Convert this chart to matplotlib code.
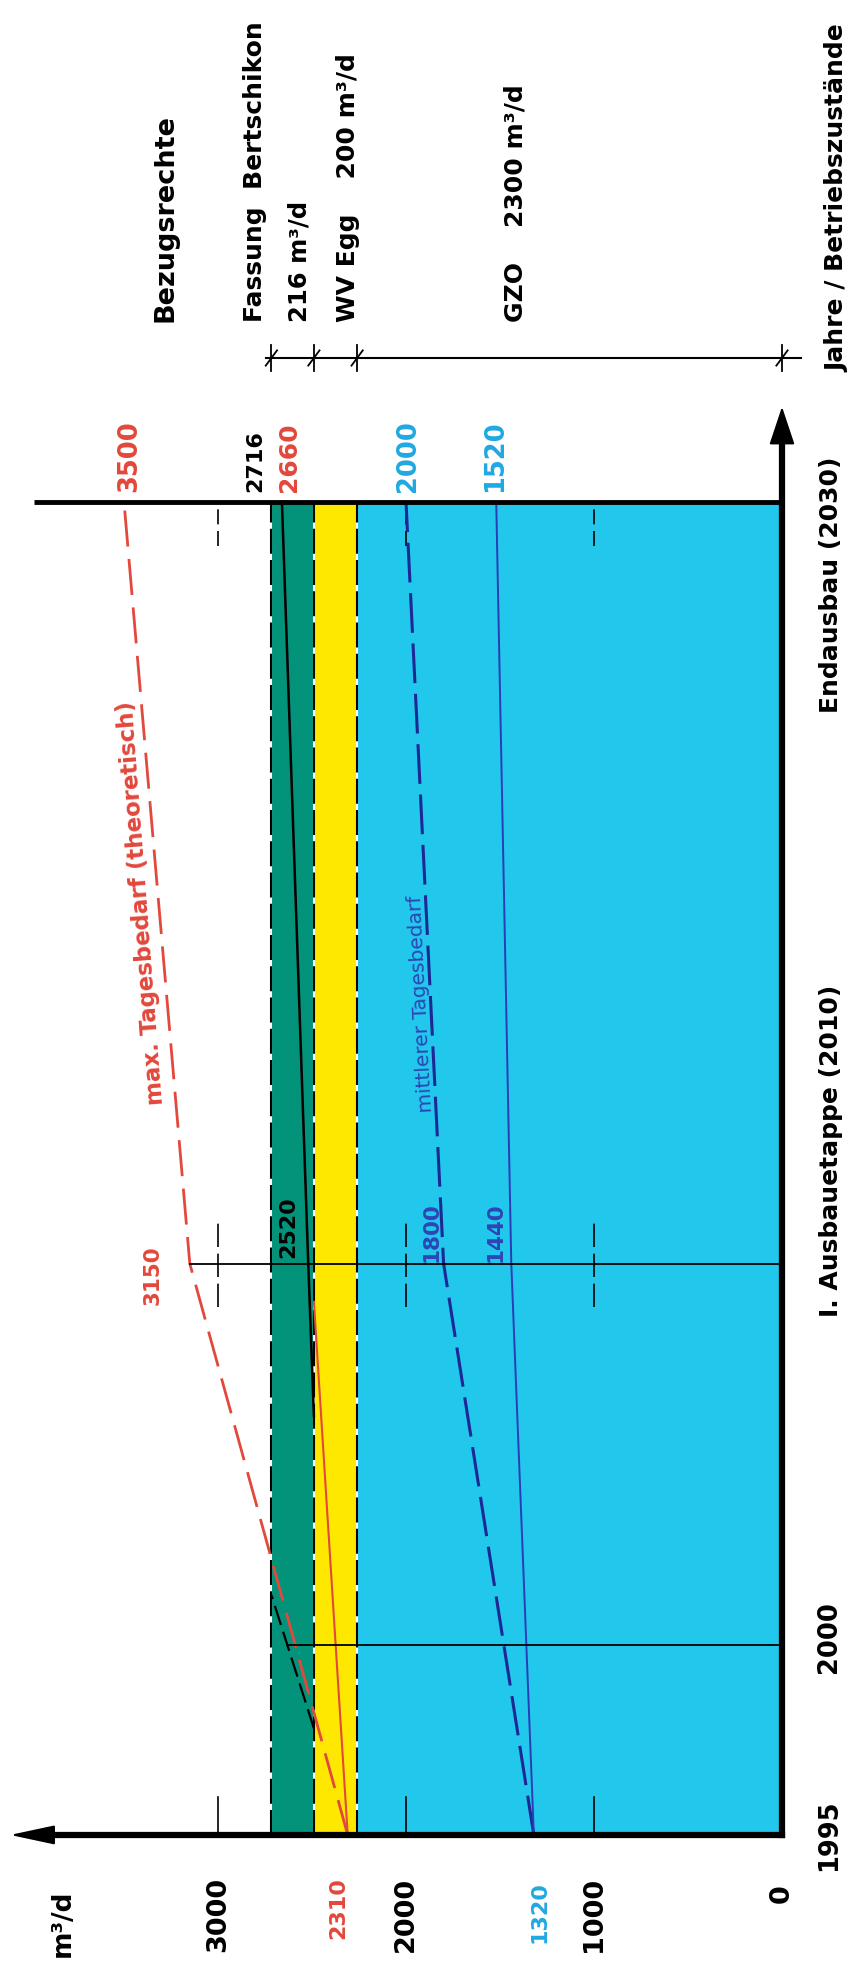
import matplotlib
matplotlib.use('Agg')
import matplotlib.pyplot as plt
import numpy as np

plt.rcParams['font.family'] = ['DejaVu Sans']
plt.rcParams['font.weight'] = 'bold'

# Betriebszustaende (Jahre)
stage_years = [1995, 2000, 2010, 2030]
stage_labels = ['1995', '2000', 'I. Ausbauetappe (2010)', 'Endausbau (2030)']

# Achse m3/d
flow_ticks = [1000, 2000, 3000]
flow_tick_labels = ['1000', '2000', '3000']

# Bezugsrechte (gestapelt)
rights_lower = [0, 2260, 2490]
rights_upper = [2260, 2490, 2716]
rights_colors = ['#22c7ec', '#ffe800', '#03937a']
rights_texts = ['GZO    2300 m³/d', 'WV Egg    200 m³/d', '216 m³/d', 'Fassung  Bertschikon']

# max. Tagesbedarf (theoretisch)
max_years = [1995, 2010, 2030]
max_demand = [2310, 3150, 3500]
# mittlerer Tagesbedarf
mean_years = [1995, 2010, 2030]
mean_demand = [1320, 1800, 2000]
# untere blaue Linie
low_years = [1995, 2010, 2030]
low_demand = [1320, 1440, 1520]
# Linien im Band
red_years = [1995, 2009]
red_vals = [2310, 2490]
black_years = [2006, 2010, 2030]
black_vals = [2490, 2520, 2660]
black_dash_years = [1997.8, 2001.3]
black_dash_vals = [2490, 2716]

RED = '#e2483b'
NAVY = '#1b2896'
CYAN_TXT = '#1fa8e2'
NAVY_TXT = '#2d45b5'

fig = plt.figure(figsize=(8.5, 19.69), dpi=100)
ax = fig.add_axes([0, 0, 1, 1])
ax.set_xlim(4159.6, -361.7)
ax.set_ylim(1991.48, 2043.18)
ax.axis('off')

y0, y1 = stage_years[0], stage_years[-1]

# Farbflaechen
for lo, hi, c in zip(rights_lower, rights_upper, rights_colors):
    ax.fill_betweenx([y0, y1], lo, hi, color=c, lw=0, zorder=1)
for v in rights_upper:
    ax.plot([v, v], [y0, y1], color='white', lw=1.5, zorder=2)
    ax.plot([v, v], [y0, y1], color='black', lw=1.5, dashes=(12, 3), zorder=2)

# kurze Hilfsstriche
for f in flow_ticks:
    ax.plot([f, f], [1995, 1996.0], color='black', lw=1.2, zorder=3)
    ax.plot([f, f], [2008.85, 2011.15], color='black', lw=1.2, dashes=(14, 4), zorder=3)
    ax.plot([f, f], [2028.85, 2030], color='black', lw=1.2, dashes=(9, 4), zorder=3)

# Jahreslinien
x2000 = np.interp(2000, black_dash_years, black_dash_vals)
x2010 = np.interp(2010, max_years, max_demand)
ax.plot([x2000, 0], [2000, 2000], color='black', lw=1.3, zorder=5)
ax.plot([x2010, 0], [2010, 2010], color='black', lw=1.3, zorder=5)
ax.plot([3980, 0], [2030, 2030], color='black', lw=3.5, zorder=6, solid_capstyle='butt')

# Bedarfslinien
ax.plot(max_demand, max_years, color=RED, lw=2, dashes=(13, 4.5), zorder=4)
ax.plot(mean_demand, mean_years, color=NAVY, lw=2.2, dashes=(13, 3.5), zorder=4)
ax.plot(low_demand, low_years, color='#2a3cb8', lw=1.4, zorder=4)
ax.plot(red_vals, red_years, color=RED, lw=1.5, zorder=4)
ax.plot(black_vals, black_years, color='black', lw=1.8, zorder=4)
ax.plot(black_dash_vals, black_dash_years, color='black', lw=1.6, dashes=(9, 3.2), zorder=4)

# Achsen mit Pfeilen
ax.plot([0, 3950], [1995, 1995], color='black', lw=4.5, solid_capstyle='projecting', zorder=7)
ax.annotate('', xy=(4106, 1995), xytext=(3900, 1995),
            arrowprops=dict(arrowstyle='-|>,head_length=1.4,head_width=0.3', mutation_scale=20,
                            lw=1.5, color='black', shrinkA=0, shrinkB=0), zorder=7)
ax.plot([0, 0], [1995, 2031.8], color='black', lw=4.5, solid_capstyle='projecting', zorder=7)
ax.annotate('', xy=(0, 2032.5), xytext=(0, 2031.0),
            arrowprops=dict(arrowstyle='-|>,head_length=1.2,head_width=0.4', mutation_scale=20,
                            lw=1.5, color='black', shrinkA=0, shrinkB=0), zorder=7)

# Bezugsrechte-Leiste
bar_y = 2033.78
ax.plot([rights_upper[-1] + 30, -100], [bar_y, bar_y], color='black', lw=1.5)
for v in rights_upper[::-1] + [0]:
    ax.plot([v, v], [bar_y - 0.33, bar_y + 0.33], color='black', lw=1.3)
    ax.plot([v + 30, v - 30], [bar_y - 0.2, bar_y + 0.2], color='black', lw=1.3)

# Texte Zeitachse
for yr, lab in zip(stage_years[:2], stage_labels[:2]):
    ax.text(-250, yr + (0.2 if yr == 2000 else 0), lab, rotation=90, ha='center', va='center',
            fontsize=18.5)
ax.text(-260, 2008.6, stage_labels[2], rotation=90, ha='center', va='bottom', fontsize=18)
ax.text(-260, 2024.46, stage_labels[3], rotation=90, ha='center', va='bottom', fontsize=18)
ax.text(-293, 2033.41, 'Jahre / Betriebszustände', rotation=90, ha='center', va='bottom', fontsize=18)

# Texte Mengenachse
ax.text(3824, 1993.58, 'm³/d', rotation=90, ha='center', va='top', fontsize=19)
for f, lab in zip(flow_ticks, flow_tick_labels):
    ax.text(f, 1993.9, lab, rotation=90, ha='center', va='top', fontsize=19.5)
ax.text(0, 1993.7, '0', rotation=90, ha='center', va='top', fontsize=19.5)
ax.text(max_demand[0] + 50, 1993.9, str(max_demand[0]), rotation=90, ha='center', va='top',
        fontsize=16, color=RED)
ax.text(mean_demand[0] - 30, 1993.8, str(mean_demand[0]), rotation=90, ha='center', va='top',
        fontsize=16, color=CYAN_TXT)

# Werte 2030
ax.text(max_demand[-1] - 30, 2030.25, str(max_demand[-1]), rotation=90, ha='center', va='bottom',
        fontsize=18.5, color=RED)
ax.text(rights_upper[-1] + 85, 2030.25, str(rights_upper[-1]), rotation=90, ha='center', va='bottom',
        fontsize=16)
ax.text(black_vals[-1] - 40, 2030.25, str(black_vals[-1]), rotation=90, ha='center', va='bottom',
        fontsize=18, color=RED)
ax.text(mean_demand[-1] - 10, 2030.25, str(mean_demand[-1]), rotation=90, ha='center', va='bottom',
        fontsize=18.5, color=CYAN_TXT)
ax.text(low_demand[-1] + 7, 2030.25, str(low_demand[-1]), rotation=90, ha='center', va='bottom',
        fontsize=18.5, color=CYAN_TXT)

# Werte 2010
ax.text(max_demand[1] + 196, 2008.92, str(max_demand[1]), rotation=90, ha='center', va='bottom',
        fontsize=15.5, color=RED)
ax.text(black_vals[1] + 108, 2010.15, str(black_vals[1]), rotation=90, ha='center', va='bottom',
        fontsize=16)
ax.text(mean_demand[1] + 62, 2010.05, str(mean_demand[1]), rotation=90, ha='center', va='bottom',
        fontsize=15.5, color=NAVY_TXT)
ax.text(low_demand[1] + 81, 2010.05, str(low_demand[1]), rotation=90, ha='center', va='bottom',
        fontsize=15.5, color=NAVY_TXT)

# Linienbeschriftungen
ax.text(3293, 2014.17, 'max. Tagesbedarf (theoretisch)', rotation=94.3, rotation_mode='anchor',
        ha='left', va='baseline', fontsize=16.5, color=RED)
ax.text(1862, 2013.98, 'mittlerer Tagesbedarf', rotation=92.9, rotation_mode='anchor',
        ha='left', va='baseline', fontsize=14.5, fontweight='normal', color=NAVY_TXT)

# Bezugsrechte Texte
ax.text(3277, 2034.73, 'Bezugsrechte', rotation=90, ha='center', va='bottom', fontsize=19.5)
ax.text(2803, 2034.73, rights_texts[3], rotation=90, ha='center', va='bottom', fontsize=18)
ax.text(2569, 2034.73, rights_texts[2], rotation=90, ha='center', va='bottom', fontsize=17.5)
ax.text(2309, 2034.73, rights_texts[1], rotation=90, ha='center', va='bottom', fontsize=18)
ax.text(1415, 2034.73, rights_texts[0], rotation=90, ha='center', va='bottom', fontsize=18)

fig.savefig('out.png', dpi=100)
